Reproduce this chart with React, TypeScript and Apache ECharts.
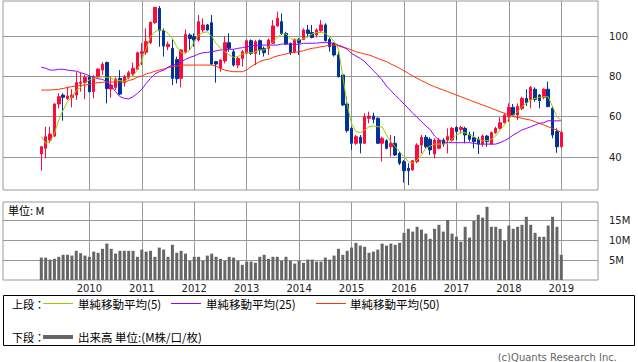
import React, { useEffect, useRef } from 'react';
import * as echarts from 'echarts';

// Monthly data, first month 2009-02, last month 2019-01
const startYear = 2009;
const startMonth = 2;

const opens = [
  41.5, 44.3, 48.4, 50.4, 66.3, 70.7, 68.9, 69.6, 70.7, 76.5, 76.9, 79.5, 72.4, 79.8, 83.1, 86.9, 73.7, 74.5, 79.0, 76.9,
  79.5, 81.2, 83.5, 91.4, 91.9, 96.7, 106.6, 113.7, 102.6, 94.7, 93.9, 88.4, 79.0, 92.2, 100.5, 99.7, 98.0, 103.0, 105.5, 106.6,
  87.3, 84.0, 87.6, 96.7, 92.2, 85.6, 88.9, 91.4, 97.7, 91.4, 97.7, 93.9, 93.9, 96.4, 105.0, 107.1, 101.3, 96.4, 92.2, 98.3,
  98.3, 103.0, 101.7, 100.5, 102.6, 105.5, 98.3, 96.4, 90.6, 80.7, 66.3, 54.2, 46.8, 49.8, 46.8, 59.2, 60.3, 59.2, 46.8, 48.1,
  45.1, 46.8, 41.8, 37.7, 34.4, 33.6, 37.7, 45.9, 49.8, 48.8, 41.5, 44.3, 48.4, 48.4, 48.4, 54.7, 53.7, 54.2, 51.2, 49.6,
  48.8, 46.4, 50.4, 46.4, 52.1, 54.2, 57.0, 60.0, 64.6, 60.8, 64.1, 69.1, 68.3, 73.6, 70.7, 69.6, 73.6, 64.1, 52.6, 45.1,
];
const closes = [
  45.1, 50.1, 51.4, 66.3, 69.9, 69.6, 70.2, 70.7, 76.9, 77.1, 79.5, 72.4, 79.8, 83.6, 86.0, 73.9, 75.7, 78.7, 71.2, 79.8,
  81.8, 84.0, 91.7, 92.2, 97.2, 106.8, 114.2, 102.6, 95.0, 95.9, 79.0, 78.8, 93.1, 100.8, 98.7, 98.0, 107.1, 105.5, 103.0, 86.1,
  86.1, 88.1, 96.7, 93.9, 85.6, 88.9, 92.2, 97.7, 91.4, 97.2, 93.1, 91.7, 98.0, 105.0, 108.8, 101.3, 96.0, 91.7, 98.3, 96.7,
  103.0, 101.3, 99.3, 103.0, 105.5, 97.7, 94.7, 90.6, 79.8, 65.8, 53.1, 46.8, 50.1, 46.8, 60.0, 60.3, 58.7, 46.8, 49.3, 44.3,
  46.8, 41.0, 36.9, 33.2, 33.2, 38.2, 45.9, 49.8, 45.1, 43.5, 48.4, 48.4, 46.4, 50.1, 54.2, 52.6, 54.7, 50.9, 48.8, 47.6,
  46.4, 50.4, 47.6, 52.1, 54.2, 57.0, 60.8, 64.6, 60.8, 65.0, 69.1, 66.9, 74.5, 68.6, 67.9, 73.6, 65.0, 50.9, 45.1, 52.1,
];
const lows = [
  33.2, 39.3, 46.8, 50.0, 64.1, 58.0, 68.3, 64.6, 68.3, 72.4, 68.6, 71.9, 69.1, 79.8, 80.7, 66.6, 69.4, 73.2, 70.7, 74.9,
  78.5, 80.2, 83.1, 85.6, 90.6, 96.0, 106.0, 94.7, 89.8, 93.0, 75.7, 76.5, 74.5, 91.4, 93.1, 94.7, 97.2, 101.8, 102.6, 85.6,
  76.9, 82.3, 86.4, 92.2, 84.8, 84.0, 84.8, 91.1, 90.6, 85.6, 90.6, 89.8, 90.6, 96.0, 104.6, 100.5, 95.5, 90.6, 91.4, 90.6,
  98.0, 99.3, 98.8, 99.3, 102.1, 97.2, 92.2, 89.8, 79.5, 65.3, 52.1, 43.5, 46.0, 41.8, 46.4, 56.7, 56.7, 46.4, 37.7, 43.8,
  40.2, 40.5, 36.0, 27.3, 26.1, 33.2, 36.9, 41.8, 44.3, 41.0, 39.3, 43.8, 45.1, 41.8, 47.6, 48.4, 51.7, 46.8, 47.6, 44.3,
  41.5, 45.1, 45.1, 46.0, 51.4, 53.7, 56.7, 57.5, 60.0, 58.3, 63.3, 65.3, 64.1, 67.4, 64.1, 68.6, 64.6, 49.3, 42.1, 44.3,
];
const highs = [
  45.5, 55.0, 55.0, 66.6, 71.6, 71.6, 74.9, 73.6, 82.1, 81.8, 80.7, 80.5, 80.5, 84.0, 87.1, 87.3, 79.8, 79.5, 83.1, 80.7,
  82.8, 86.8, 92.2, 96.4, 103.8, 107.1, 114.5, 114.9, 103.8, 97.2, 98.3, 89.8, 93.4, 103.3, 101.3, 101.3, 110.4, 108.8, 106.0, 110.4,
  87.3, 88.4, 100.0, 101.3, 93.4, 90.1, 93.1, 98.3, 98.3, 98.0, 98.3, 94.7, 98.8, 107.9, 112.1, 111.2, 102.1, 96.7, 98.8, 99.0,
  103.8, 105.5, 105.5, 103.8, 107.9, 106.3, 99.3, 96.7, 92.2, 81.2, 69.9, 55.0, 50.9, 50.9, 61.7, 62.5, 62.0, 59.7, 50.1, 48.8,
  50.9, 50.4, 42.6, 38.5, 36.9, 38.5, 46.8, 50.9, 50.9, 49.8, 49.3, 49.3, 49.3, 54.2, 55.0, 55.4, 55.4, 55.0, 52.6, 52.6,
  50.1, 51.2, 50.9, 52.6, 55.0, 59.7, 61.7, 66.6, 66.3, 66.6, 69.9, 73.6, 75.2, 74.5, 71.2, 74.1, 77.4, 65.0, 54.2, 53.1,
];
const ma5 = [
  50.1, 46.8, 47.6, 51.7, 58.3, 63.3, 67.4, 69.9, 72.9, 74.5, 76.5, 78.2, 79.0, 79.5, 79.8, 79.5, 79.0, 78.2, 77.9, 77.4,
  79.5, 80.2, 83.1, 88.1, 93.9, 99.7, 102.1, 103.0, 103.0, 101.3, 98.8, 94.7, 91.7, 91.4, 93.1, 97.2, 100.5, 101.7, 102.1, 99.7,
  96.4, 93.9, 92.2, 90.6, 89.4, 89.8, 91.1, 91.7, 91.7, 92.2, 93.1, 93.1, 94.7, 97.2, 99.3, 101.0, 101.0, 98.8, 98.0, 98.0,
  98.8, 99.7, 101.0, 101.7, 101.8, 101.3, 99.7, 97.2, 93.5, 80.0, 66.0, 56.5, 52.6, 52.1, 53.4, 55.0, 55.4, 55.0, 55.0, 50.9,
  47.6, 45.1, 42.6, 40.2, 37.7, 36.9, 38.5, 41.0, 44.3, 45.4, 46.4, 46.4, 46.4, 46.8, 48.8, 50.9, 52.1, 52.1, 50.9, 50.1,
  48.8, 48.1, 48.1, 48.8, 50.4, 53.4, 55.9, 59.2, 60.8, 62.5, 65.0, 66.6, 68.3, 69.1, 69.6, 69.9, 69.9, 65.0, 60.0, 58.0,
];
const ma25 = [
  84.5, 84.0, 83.1, 83.1, 83.5, 83.5, 83.1, 82.8, 82.6, 81.8, 81.2, 80.2, 79.5, 78.8, 78.5, 77.4, 75.2, 72.4, 69.9, 69.1,
  68.8, 69.9, 71.6, 73.6, 76.5, 79.0, 81.2, 82.3, 83.1, 84.5, 85.6, 86.1, 87.3, 88.4, 89.4, 90.1, 91.1, 91.7, 91.9, 92.2,
  92.6, 93.1, 93.1, 93.4, 93.4, 93.9, 94.2, 94.7, 95.0, 95.4, 95.5, 95.5, 95.5, 95.5, 95.5, 96.0, 96.0, 96.0, 95.9, 95.9,
  96.4, 96.4, 96.4, 96.5, 96.7, 96.7, 96.7, 96.4, 95.5, 94.7, 93.4, 91.4, 90.1, 88.9, 87.3, 85.1, 82.8, 80.7, 78.2, 75.2,
  72.9, 70.7, 68.6, 66.3, 64.1, 61.7, 59.7, 57.5, 55.4, 53.6, 50.4, 48.4, 47.6, 47.1, 47.1, 47.1, 47.1, 47.1, 47.1, 46.8,
  46.4, 46.4, 46.4, 46.4, 46.4, 47.1, 48.1, 49.3, 50.9, 52.1, 53.4, 54.2, 55.0, 55.9, 56.7, 57.0, 58.0, 58.0, 57.9, 58.0,
];
const ma50 = [
  73.2, 73.2, 73.2, 73.4, 73.6, 74.0, 74.5, 74.9, 75.2, 75.5, 75.7, 76.0, 76.5, 76.9, 77.0, 77.2, 77.2, 77.2, 77.2, 77.2,
  77.9, 78.5, 79.5, 80.2, 81.2, 81.8, 82.5, 83.1, 83.6, 84.3, 84.8, 85.1, 85.5, 85.6, 85.6, 85.6, 85.6, 85.6, 85.6, 85.6,
  85.1, 84.0, 83.1, 82.6, 82.3, 82.3, 82.3, 83.1, 84.8, 86.1, 87.3, 88.1, 88.4, 89.4, 90.1, 90.6, 91.1, 91.7, 91.9, 92.2,
  92.7, 93.4, 93.9, 94.2, 94.7, 95.0, 95.5, 95.5, 95.0, 94.4, 93.9, 93.1, 92.2, 91.7, 91.1, 90.6, 89.8, 88.9, 88.1, 87.3,
  86.1, 85.1, 84.0, 82.8, 81.5, 80.2, 79.0, 77.9, 76.9, 75.7, 74.9, 74.0, 73.2, 72.4, 71.6, 70.7, 69.9, 69.1, 68.3, 67.4,
  66.6, 65.8, 65.0, 64.1, 63.3, 62.5, 61.7, 60.8, 60.0, 59.7, 59.2, 58.7, 58.3, 57.5, 56.7, 55.9, 55.0, 54.2, 53.4, 52.1,
];
const volumes = [
  5.6, 5.6, 5.1, 5.3, 5.8, 6.3, 6.3, 6.1, 7.3, 6.7, 6.1, 5.8, 7.1, 6.8, 7.8, 9.1, 7.8, 6.6, 7.3, 7.3,
  7.3, 7.3, 5.8, 7.6, 7.1, 7.3, 5.8, 8.1, 7.6, 5.8, 8.8, 6.8, 7.3, 6.6, 4.8, 5.8, 5.8, 4.8, 6.1, 6.6,
  5.8, 5.3, 4.8, 5.8, 5.6, 4.8, 3.8, 4.6, 4.6, 4.3, 5.8, 6.3, 5.3, 5.8, 5.8, 4.8, 5.8, 4.8, 4.1, 4.8,
  4.3, 5.1, 5.1, 4.6, 4.6, 5.6, 5.1, 6.1, 7.8, 6.3, 7.3, 8.1, 9.3, 8.6, 8.3, 6.8, 7.1, 7.6, 9.1, 8.6,
  9.1, 8.8, 9.3, 11.8, 12.8, 12.1, 13.3, 12.6, 11.6, 10.3, 12.8, 13.8, 12.1, 15.0, 11.6, 10.8, 9.6, 13.3, 10.6, 14.8,
  16.3, 15.6, 18.3, 13.3, 13.3, 12.8, 9.8, 13.6, 12.8, 13.3, 13.8, 15.8, 13.8, 11.8, 10.8, 10.8, 13.6, 15.8, 13.3, 6.3,
];
const priceTicks = [40, 60, 80, 100];
const volumeTicks = [5, 10, 15];

const legendLabels = ['単純移動平均(5)', '単純移動平均(25)', '単純移動平均(50)'];
const volumeLegend = '出来高 単位:(M株/口/枚)';

const RED = '#ff0a3c';
const BLUE = '#003399';
const C5 = '#99cc00';
const C25 = '#9900ff';
const C50 = '#ff3300';
const GRID = '#999999';

export default function App() {
  const ref = useRef<HTMLDivElement>(null);
  useEffect(() => {
    if (!ref.current) return;
    const chart = echarts.init(ref.current, null, { renderer: 'svg' });

    // month labels & January positions
    const monthYear: number[] = [];
    const monthNum: number[] = [];
    for (let i = 0; i < opens.length; i++) {
      const m0 = startMonth - 1 + i;
      monthYear.push(startYear + Math.floor(m0 / 12));
      monthNum.push((m0 % 12) + 1);
    }
    const janIdx: number[] = [];
    monthNum.forEach((m, i) => { if (m === 1) janIdx.push(i); });
    const yearOf = (v: number) => String(monthYear[Math.round(v)] ?? '');

    const X_MIN = -8.765;
    const X_MAX = 127.4;
    const font = '"DejaVu Sans", sans-serif';
    const jp = '"Noto Sans CJK JP", sans-serif';

    const xBase = (gi: number, showLabel: boolean) => ({
      type: 'value',
      gridIndex: gi,
      min: X_MIN,
      max: X_MAX,
      axisLine: { show: false },
      axisTick: { show: false, customValues: janIdx },
      axisLabel: {
        show: showLabel,
        customValues: janIdx,
        formatter: (v: number) => yearOf(v),
        fontSize: 10,
        fontFamily: font,
        color: '#222',
        margin: 3,
      },
      splitLine: { show: true, lineStyle: { color: GRID, width: 1 } },
    });

    const option: any = {
      animation: false,
      backgroundColor: '#ffffff',
      grid: [
        { left: 3, top: 1, width: 595, height: 189, show: true, borderColor: GRID, borderWidth: 1 },
        { left: 3, top: 202, width: 595, height: 78, show: true, borderColor: GRID, borderWidth: 1 },
      ],
      xAxis: [xBase(0, false), xBase(1, true)],
      yAxis: [
        {
          type: 'value', gridIndex: 0, position: 'right', min: 23.64, max: 117.36,
          axisLine: { show: false },
          axisTick: { show: false, customValues: priceTicks },
          axisLabel: { customValues: priceTicks, fontSize: 10, fontFamily: font, color: '#222', margin: 11 },
          splitLine: { show: true, lineStyle: { color: GRID, width: 1 } },
        },
        {
          type: 'value', gridIndex: 1, position: 'right', min: 0, max: 19.5,
          axisLine: { show: false },
          axisTick: { show: false, customValues: volumeTicks },
          axisLabel: { customValues: volumeTicks, formatter: (v: number) => v + 'M', fontSize: 10, fontFamily: font, color: '#222', margin: 11 },
          splitLine: { show: true, lineStyle: { color: GRID, width: 1 } },
        },
      ],
      series: [
        {
          type: 'candlestick',
          xAxisIndex: 0, yAxisIndex: 0,
          encode: { x: 0, y: [1, 2, 3, 4] },
          barWidth: 3,
          data: opens.map((o, i) => [i, o, closes[i], lows[i], highs[i]]),
          itemStyle: { color: RED, color0: BLUE, borderColor: RED, borderColor0: BLUE, borderWidth: 1 },
        },
        {
          type: 'line', xAxisIndex: 0, yAxisIndex: 0, symbol: 'none',
          data: ma50.map((v, i) => [i, v]),
          lineStyle: { color: C50, width: 1 },
        },
        {
          type: 'line', xAxisIndex: 0, yAxisIndex: 0, symbol: 'none',
          data: ma25.map((v, i) => [i, v]),
          lineStyle: { color: C25, width: 1 },
        },
        {
          type: 'line', xAxisIndex: 0, yAxisIndex: 0, symbol: 'none',
          data: ma5.map((v, i) => [i, v]),
          lineStyle: { color: C5, width: 1 },
        },
        {
          type: 'bar', xAxisIndex: 1, yAxisIndex: 1, barWidth: 3,
          data: volumes.map((v, i) => [i, v]),
          itemStyle: { color: '#666666' },
        },
      ],
      graphic: [
        { type: 'text', left: 8, top: 204, style: { text: '単位: M', fontSize: 11, fontFamily: jp, fill: '#000' } },
        { type: 'rect', shape: { x: 3.5, y: 295.5, width: 631, height: 50 }, style: { fill: 'none', stroke: '#000', lineWidth: 1 } },
        { type: 'text', x: 12, y: 304, style: { text: '上段：', fontSize: 11, fontFamily: jp, fill: '#000', verticalAlign: 'middle' } },
        { type: 'line', shape: { x1: 43, y1: 303.5, x2: 73, y2: 303.5 }, style: { stroke: C5, lineWidth: 1 } },
        { type: 'text', x: 78, y: 304, style: { text: legendLabels[0], fontSize: 11.5, fontFamily: jp, fill: '#000', verticalAlign: 'middle' } },
        { type: 'line', shape: { x1: 171, y1: 303.5, x2: 201, y2: 303.5 }, style: { stroke: C25, lineWidth: 1 } },
        { type: 'text', x: 206, y: 304, style: { text: legendLabels[1], fontSize: 11.5, fontFamily: jp, fill: '#000', verticalAlign: 'middle' } },
        { type: 'line', shape: { x1: 316, y1: 303.5, x2: 346, y2: 303.5 }, style: { stroke: C50, lineWidth: 1 } },
        { type: 'text', x: 350, y: 304, style: { text: legendLabels[2], fontSize: 11.5, fontFamily: jp, fill: '#000', verticalAlign: 'middle' } },
        { type: 'text', x: 12, y: 337, style: { text: '下段：', fontSize: 11, fontFamily: jp, fill: '#000', verticalAlign: 'middle' } },
        { type: 'line', shape: { x1: 43, y1: 337, x2: 73, y2: 337 }, style: { stroke: '#666666', lineWidth: 4 } },
        { type: 'text', x: 78, y: 337, style: { text: volumeLegend, fontSize: 11.5, fontFamily: jp, fill: '#000', verticalAlign: 'middle' } },
        { type: 'text', x: 617, y: 357, style: { text: '(c)Quants Research Inc.', fontSize: 10, fontFamily: font, fill: '#666', align: 'right', verticalAlign: 'middle' } },
      ],
    };
    chart.setOption(option);
    return () => chart.dispose();
  }, []);
  return <div ref={ref} style={{ position: 'absolute', left: 0, top: 0, width: 638, height: 362, background: '#fff' }} />;
}
